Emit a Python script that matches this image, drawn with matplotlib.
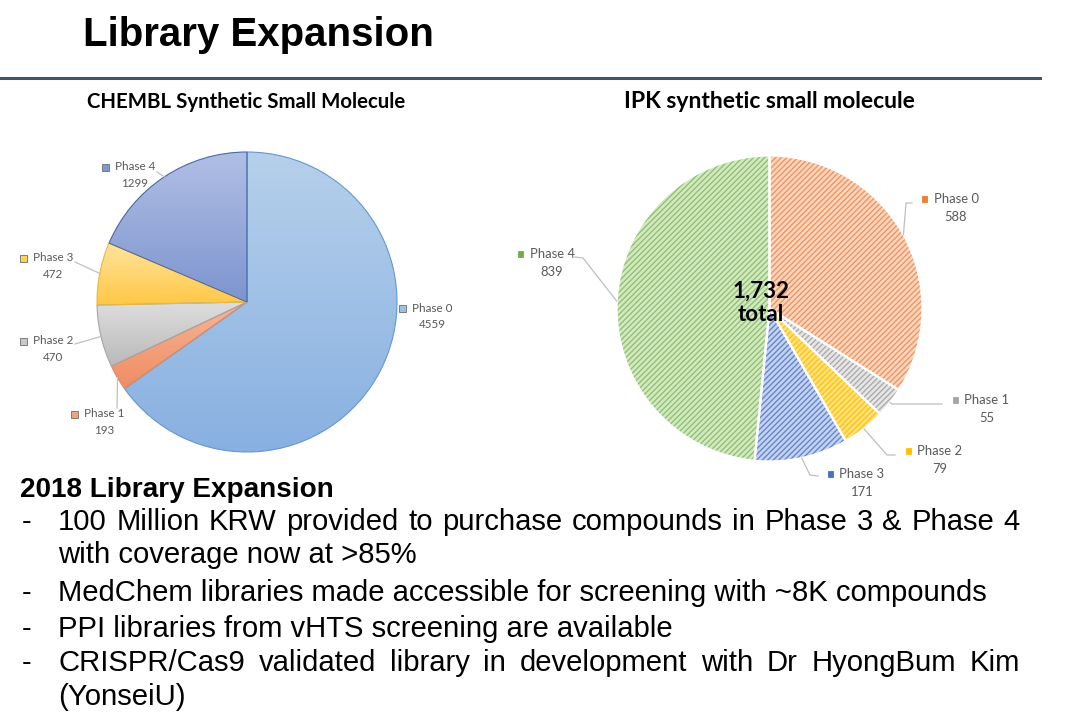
import matplotlib

matplotlib.use("Agg")
import matplotlib.pyplot as plt
import numpy as np
from matplotlib.colors import LinearSegmentedColormap
from matplotlib.lines import Line2D
from matplotlib.patches import Rectangle

W, H = 1082, 717

# --- data -------------------------------------------------------------------
PHASES = ["Phase 0", "Phase 1", "Phase 2", "Phase 3", "Phase 4"]
CHEMBL_COUNTS = [4559, 193, 470, 472, 1299]
IPK_COUNTS = [588, 55, 79, 171, 839]
IPK_TOTAL_LABEL = "1,732\ntotal"

TITLE = "Library Expansion"
CHEMBL_TITLE = "CHEMBL Synthetic Small Molecule"
IPK_TITLE = "IPK synthetic small molecule"
NOTES_HEADING = "2018 Library Expansion"
NOTES = [
    ["100 Million KRW provided to purchase compounds in Phase 3 & Phase 4",
     "with coverage now at >85%"],
    ["MedChem libraries made accessible for screening with ~8K compounds"],
    ["PPI libraries from vHTS screening are available"],
    ["CRISPR/Cas9 validated library in development with Dr HyongBum Kim",
     "(YonseiU)"],
]

# --- styles -----------------------------------------------------------------
CHEMBL_GRADIENT = [("#b6d0eb", "#88b0e1"), ("#f7b698", "#ef8c62"),
                   ("#dedede", "#bababa"), ("#ffe39c", "#ffc845"),
                   ("#b0bfe4", "#7d94cf")]
CHEMBL_EDGES = ["#6497d1", "#e08a62", "#a6a6a6", "#e9b845", "#4b68a6"]
CHEMBL_KEYS = ["#9cc0e8", "#f4a27c", "#c9c9c9", "#ffd060", "#8097d2"]

IPK_FACES = ["#fbd6c0", "#e6e6e6", "#ffe27e", "#c6d3ef", "#d4e8c5"]
IPK_HATCH = ["#f0955e", "#ababab", "#ffc20f", "#6486d0", "#8fc36c"]
IPK_KEYS = ["#ed7d31", "#a5a5a5", "#ffc000", "#4472c4", "#70ad47"]

LABEL_GREY = "#595959"
LEADER_GREY = "#bfbfbf"

# label centre (x of text, y of "Phase" line) in slide pixels
CHEMBL_LABEL_POS = [(432, 308), (104, 414), (53, 341), (53, 258), (135, 167)]
IPK_LABEL_POS = [(956, 199), (987, 400), (940, 451), (862, 474), (552, 254)]
# label end of each leader line (None = no leader)
CHEMBL_LEADERS = [None, [(117, 408)], [(75, 344)], [(75, 262)], [(157, 172)]]
IPK_LEADERS = [[(912, 203), (906, 203)], [(942, 404), (892, 404)],
               [(895, 455), (887, 455)], [(818, 476), (810, 475)],
               [(575, 257), (583, 258)]]


def fx(x):
    return x / W


def fy(y):
    return 1 - y / H


def fit_size(fig, text, width, **kw):
    """Font size that gives `text` the wanted pixel width."""
    probe = fig.text(0, 0, text, fontsize=20, **kw)
    w = probe.get_window_extent(fig.canvas.get_renderer()).width
    probe.remove()
    return 20 * width / w


def justified(fig, line, x0, x1, y, size, **kw):
    renderer = fig.canvas.get_renderer()
    words = line.split()
    arts = [fig.text(0, fy(y), w, fontsize=size, va="baseline", **kw) for w in words]
    widths = [a.get_window_extent(renderer).width for a in arts]
    gap = (x1 - x0 - sum(widths)) / (len(words) - 1)
    x = x0
    for a, w in zip(arts, widths):
        a.set_x(fx(x))
        x += w + gap


def pie_axes(fig, cx, cy, r, k=1.05):
    s = r * k
    ax = fig.add_axes([fx(cx - s), fy(cy + s), 2 * s / W, 2 * s / H])
    return ax, k


def edge_point(fig, ax, wedge):
    mid = np.deg2rad((wedge.theta1 + wedge.theta2) / 2)
    px, py = ax.transData.transform((np.cos(mid), np.sin(mid)))
    return px, H - py


def draw_labels(fig, positions, values, keys, size, dy, key_size, key_edge):
    renderer = fig.canvas.get_renderer()
    for (cx, cy), name, val, key in zip(positions, PHASES, values, keys):
        t = fig.text(fx(cx), fy(cy), name, fontsize=size, family="Lato",
                     color=LABEL_GREY, ha="center", va="center")
        fig.text(fx(cx), fy(cy + dy), f"{val}", fontsize=size, family="Lato",
                 color=LABEL_GREY, ha="center", va="center")
        tw = t.get_window_extent(renderer).width
        kx = cx - tw / 2 - 9
        fig.add_artist(Rectangle((fx(kx - key_size / 2), fy(cy + key_size / 2)),
                                 key_size / W, key_size / H,
                                 transform=fig.transFigure, facecolor=key,
                                 edgecolor=key_edge(key), linewidth=0.6))


def draw_leaders(fig, ax, wedges, leaders):
    for wedge, pts in zip(wedges, leaders):
        if pts is None:
            continue
        pts = pts + [edge_point(fig, ax, wedge)]
        xs = [fx(p[0]) for p in pts]
        ys = [fy(p[1]) for p in pts]
        fig.add_artist(Line2D(xs, ys, transform=fig.transFigure,
                              color=LEADER_GREY, linewidth=0.9))


def main():
    fig = plt.figure(figsize=(W / 100, H / 100), dpi=100)
    fig.patch.set_facecolor("white")

    # title and rule
    size = fit_size(fig, TITLE, 350, family="Liberation Sans", fontweight="bold")
    fig.text(fx(83), fy(46), TITLE, fontsize=size, family="Liberation Sans",
             fontweight="bold", va="baseline")
    fig.add_artist(Line2D([0, fx(1040)], [fy(78), fy(78)], transform=fig.transFigure,
                          color="#44546a", linewidth=2.2))

    # pie titles
    for text, cx, width in [(CHEMBL_TITLE, 246, 318), (IPK_TITLE, 769, 292)]:
        size = fit_size(fig, text, width, family="Lato", fontweight="bold")
        fig.text(fx(cx), fy(108), text, fontsize=size, family="Lato",
                 fontweight="bold", ha="center", va="baseline")

    # CHEMBL pie: gradient wedges
    ax, k = pie_axes(fig, 247, 302, 150)
    wedges, _ = ax.pie(CHEMBL_COUNTS, startangle=90, counterclock=False,
                       wedgeprops=dict(linewidth=0.8))
    for w, (top, bottom), ec in zip(wedges, CHEMBL_GRADIENT, CHEMBL_EDGES):
        ext = w.get_path().get_extents()
        cmap = LinearSegmentedColormap.from_list("g", [top, bottom])
        im = ax.imshow(np.linspace(0, 1, 256).reshape(-1, 1), cmap=cmap,
                       extent=(ext.x0, ext.x1, ext.y0, ext.y1), aspect="auto",
                       origin="upper", zorder=1, interpolation="bilinear")
        im.set_clip_path(w)
        w.set_facecolor("none")
        w.set_edgecolor(ec)
        w.set_zorder(2)
    ax.set_xlim(-k, k)
    ax.set_ylim(-k, k)
    ax.set_aspect("equal")
    ax.axis("off")
    draw_leaders(fig, ax, wedges, CHEMBL_LEADERS)
    size = fit_size(fig, "Phase 3", 40, family="Lato")
    draw_labels(fig, CHEMBL_LABEL_POS, CHEMBL_COUNTS, CHEMBL_KEYS, size, 16.5, 7,
                lambda c: "#6d6d6d")

    # IPK pie: hatched wedges with white separators
    ax, k = pie_axes(fig, 769.5, 308.5, 153)
    plt.rcParams["hatch.linewidth"] = 1.0
    wedges, _ = ax.pie(IPK_COUNTS, startangle=90, counterclock=False,
                       colors=IPK_FACES, wedgeprops=dict(linewidth=0))
    for w, hc in zip(wedges, IPK_HATCH):
        w.set_hatch("//////")
        w.set_edgecolor(hc)
        w.set_linewidth(0)
    ax.pie(IPK_COUNTS, startangle=90, counterclock=False,
           wedgeprops=dict(facecolor="none", edgecolor="white", linewidth=1.6))
    ax.set_xlim(-k, k)
    ax.set_ylim(-k, k)
    ax.set_aspect("equal")
    ax.axis("off")
    draw_leaders(fig, ax, wedges, IPK_LEADERS)
    size = fit_size(fig, "Phase 0", 45, family="Lato")
    draw_labels(fig, IPK_LABEL_POS, IPK_COUNTS, IPK_KEYS, size, 18, 5.5,
                lambda c: c)
    size = fit_size(fig, "1,732", 57, family="Lato", fontweight="bold")
    fig.text(fx(761), fy(303), IPK_TOTAL_LABEL, fontsize=size, family="Lato",
             fontweight="bold", ha="center", va="center", linespacing=1.15)

    # notes
    size = fit_size(fig, NOTES_HEADING, 313, family="Liberation Sans",
                    fontweight="bold")
    fig.text(fx(20), fy(497), NOTES_HEADING, fontsize=size,
             family="Liberation Sans", fontweight="bold", va="baseline")
    body = fit_size(fig, NOTES[1][0], 926, family="Liberation Sans")
    baselines = iter([530, 563, 601, 637, 671, 705])
    for para in NOTES:
        for i, line in enumerate(para):
            y = next(baselines)
            if i == 0:
                fig.text(fx(22), fy(y), "-", fontsize=body,
                         family="Liberation Sans", va="baseline")
            if i < len(para) - 1:
                justified(fig, line, 58, 1020, y, body, family="Liberation Sans")
            else:
                fig.text(fx(58), fy(y), line, fontsize=body,
                         family="Liberation Sans", va="baseline")

    fig.savefig("out.png", dpi=100)
    plt.close(fig)


if __name__ == "__main__":
    main()
